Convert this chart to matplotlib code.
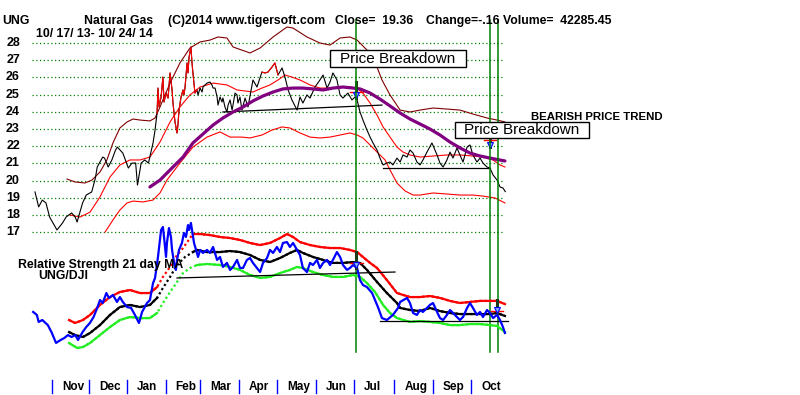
import matplotlib
matplotlib.use('Agg')
import matplotlib.pyplot as plt
import numpy as np
from matplotlib.transforms import blended_transform_factory
from matplotlib.patches import Rectangle

plt.rcParams['font.family'] = ['Liberation Sans', 'DejaVu Sans']

# --- datos (dia de cotizacion desde 17/10/13, valor) ---
close = [(0, 19.34), (2, 18.47), (4, 18.87), (6, 18.70), (8, 17.88), (12, 17.13), (15, 17.53),
         (17, 17.88), (20, 18.12), (22, 17.88), (23, 17.59), (26, 18.70), (28, 19.16), (31, 19.34),
         (33, 20.15), (34, 20.79), (37, 21.37), (38, 21.31), (40, 20.79), (42, 21.20), (44, 21.78),
         (45, 21.95), (48, 21.60), (49, 21.31), (51, 20.73), (53, 21.02), (55, 21.02), (56, 19.74),
         (58, 21.02), (60, 21.20), (62, 21.02), (64.5, 22.19), (65.6, 22.94), (66.7, 23.93),
         (67.2, 25.38), (67.8, 24.28), (68.9, 24.86), (69.9, 26.02), (70.5, 24.57), (71.6, 25.09),
         (72.7, 24.80), (73.8, 26.26), (74.9, 25.27), (75.4, 24.51), (76.5, 23.41), (77.6, 22.77),
         (78.1, 23.23), (78.7, 24.10), (79.8, 24.86), (80.9, 25.27), (81.4, 24.98), (82.0, 25.44),
         (83.1, 26.84), (83.6, 26.26), (84.2, 27.19), (85.2, 27.77), (85.8, 26.84), (86.3, 26.26),
         (87.4, 25.09), (88.5, 25.27), (89.1, 24.98), (90.2, 25.38), (91.3, 25.15), (91.8, 25.44),
         (92.9, 25.56), (94.0, 25.67), (95.6, 25.73), (96.7, 25.56), (97.3, 25.38), (98.4, 25.38),
         (99.5, 24.86), (100.0, 24.39), (101.1, 24.86), (102.2, 24.57), (102.7, 24.80), (103.8, 24.28),
         (104.9, 23.99), (105.5, 24.39), (106.6, 24.69), (107.7, 24.10), (108.2, 24.39), (109.3, 25.09),
         (110.4, 24.98), (110.9, 24.51), (112.0, 24.86), (113.1, 24.10), (114.8, 24.80), (116.4, 24.28),
         (119.1, 25.85), (121.3, 25.44), (124.0, 26.31), (125.7, 26.26), (127.3, 26.31), (129.5, 26.60),
         (131.1, 26.84), (132.8, 26.14), (135.0, 26.55), (136.6, 26.02), (138.3, 25.27), (140.4, 24.69),
         (143.2, 24.10), (144.8, 24.86), (146.4, 24.51), (148.6, 24.98), (150.3, 24.80), (153.0, 25.44),
         (155.7, 25.85), (157.4, 26.14), (159.6, 25.38), (161.2, 25.73), (162.8, 26.26), (165.0, 25.85),
         (166.7, 24.98), (168.3, 24.80), (171.0, 25.09), (173.2, 24.69), (174.9, 24.86), (176.0, 24.69),
         (177.6, 23.99), (179.2, 23.52), (181.4, 22.94), (183.1, 22.53), (184.7, 22.19), (186.9, 21.78),
         (188.5, 21.31), (190.2, 20.91), (192.3, 21.02), (194.0, 21.08), (195.6, 20.91), (197.8, 21.31),
         (199.5, 21.08), (201.1, 21.49), (203.3, 21.37), (204.9, 21.78), (206.6, 21.60), (208.7, 21.08),
         (210.4, 20.91), (212.0, 21.20), (214.2, 21.66), (216.9, 22.19), (219.7, 21.49), (221.3, 21.02),
         (223.0, 20.79), (225.1, 21.20), (226.8, 21.66), (228.4, 21.31), (230.6, 21.90), (232.2, 21.49),
         (233.9, 21.08), (236.1, 21.95), (237.7, 22.07), (239.3, 21.49), (241.5, 21.08), (243.2, 21.31),
         (244.8, 21.02), (247.0, 20.79), (248.6, 20.73), (250.3, 20.33), (252.5, 20.03), (254.1, 19.63),
         (255.7, 19.57), (257, 19.36)]
close_red = [(66.7, 88.5), (124.0, 132.8)]

band_upper = [(17.5, 20.09), (21.9, 19.92), (27.3, 19.86), (31.1, 20.03), (35.5, 20.50), (39.3, 21.20),
              (42.6, 22.19), (46.4, 23.06), (50.3, 23.41), (53.6, 23.58), (57.4, 23.52), (62.8, 23.47),
              (65.6, 23.64), (68.3, 24.28), (73.8, 25.67), (79.2, 26.84), (84.7, 27.71), (90.2, 28.06),
              (95.6, 28.17), (100.0, 28.35), (104.9, 28.29), (108.2, 27.77), (117.5, 27.42), (123.0, 27.71),
              (130.1, 28.35), (137.7, 28.93), (141.0, 28.87), (148.6, 28.35), (155.7, 28.00), (161.2, 27.88),
              (166.7, 28.29), (172.1, 28.35), (176.0, 28.17), (181.4, 27.59), (185.8, 26.90), (189.6, 25.85),
              (194.0, 24.98), (199.5, 24.10), (204.9, 23.99), (210.4, 24.10), (217.5, 24.22), (225.1, 24.16),
              (232.2, 24.10), (239.3, 23.87), (247.0, 23.64), (252.5, 23.52), (256.8, 23.41)]

ma21 = [(19.1, 18.00), (24.6, 17.88), (30.1, 18.17), (35.5, 19.05), (41.0, 20.21), (46.4, 20.91),
        (51.9, 21.20), (57.4, 21.20), (62.8, 21.37), (68.3, 22.24), (73.8, 23.41), (79.2, 24.28),
        (84.7, 24.98), (90.2, 25.44), (97.3, 25.67), (104.9, 25.56), (110.4, 25.27), (119.1, 25.15),
        (124.0, 25.38), (128.4, 25.56), (132.8, 25.85), (136.6, 26.14), (140.4, 26.02), (144.8, 25.85),
        (150.3, 25.56), (155.7, 25.38), (161.2, 25.38), (166.7, 25.44), (172.1, 25.44), (176.0, 25.38),
        (179.2, 25.09), (183.1, 24.51), (186.9, 23.81), (190.2, 23.12), (194.0, 22.53), (197.8, 21.95),
        (201.1, 21.66), (204.9, 21.49), (210.4, 21.37), (217.5, 21.43), (225.1, 21.49), (232.2, 21.49),
        (239.3, 21.43), (244.8, 21.37), (250.3, 21.20), (254.1, 20.91), (256.8, 20.79)]

band_lower = [(38.3, 17.01), (42.6, 17.71), (46.4, 18.29), (50.3, 18.70), (53.6, 18.81), (59.0, 18.76),
              (64.5, 18.87), (68.3, 19.28), (72.1, 20.03), (79.2, 21.02), (86.3, 21.95), (94.0, 22.53),
              (101.1, 22.83), (106.6, 22.53), (113.1, 22.53), (117.5, 22.48), (124.0, 22.65), (129.5, 22.94),
              (135.0, 23.12), (139.3, 23.06), (144.8, 22.77), (150.3, 22.53), (155.7, 22.48), (161.2, 22.53),
              (166.7, 22.65), (172.1, 22.77), (176.0, 22.65), (179.2, 22.48), (183.1, 22.07), (186.9, 21.66),
              (191.3, 21.20), (194.0, 20.62), (197.8, 19.86), (202.2, 19.40), (206.6, 19.16), (210.4, 19.16),
              (217.5, 19.28), (225.1, 19.22), (232.2, 19.16), (239.3, 19.16), (244.8, 19.10), (251.4, 18.99),
              (256.8, 18.70)]

ma50 = [(62.8, 19.63), (68.3, 20.03), (75.4, 20.79), (80.9, 21.37), (86.3, 22.19), (91.8, 22.71),
        (97.3, 23.23), (102.7, 23.64), (108.2, 23.99), (113.7, 24.28), (119.1, 24.63), (124.6, 24.92),
        (130.1, 25.15), (135.5, 25.33), (141.0, 25.38), (146.4, 25.38), (151.9, 25.33), (157.4, 25.27),
        (162.8, 25.38), (168.3, 25.44), (173.8, 25.38), (177.6, 25.33), (183.1, 25.09), (188.5, 24.74),
        (194.0, 24.34), (199.5, 23.93), (204.9, 23.58), (210.4, 23.29), (215.8, 23.00), (221.3, 22.65),
        (226.8, 22.24), (232.2, 21.90), (237.7, 21.60), (243.2, 21.43), (248.6, 21.31), (256.8, 21.14)]

support_price = [[(102.7, 23.99), (189.6, 24.39)], [(190.2, 20.73), (248.6, 20.73)]]

# fuerza relativa UNG/DJI (x10000)
rs = [(-1, 12.62), (1, 12.45), (2, 12.05), (4, 12.16), (7, 11.87), (9, 11.47), (11.5, 10.85), (14, 11.02),
      (16, 11.13), (18, 11.30), (20, 11.19), (22, 11.30), (23.5, 11.02), (26, 11.47), (28, 11.76),
      (30, 11.99), (32, 12.33), (34, 12.85), (35.5, 13.30), (37, 13.13), (39, 13.70), (40.4, 13.42),
      (42.6, 13.59), (44.8, 13.19), (46.4, 13.47), (48, 13.19), (50.3, 12.90), (52.5, 12.85),
      (54.6, 12.45), (56.8, 11.99), (58.5, 12.62), (61.2, 13.13), (62.8, 13.30), (64.5, 14.27),
      (65.6, 14.56), (67.2, 15.76), (68.9, 17.30), (69.9, 17.47), (70.5, 16.90), (71.6, 15.76),
      (72.1, 16.56), (73.2, 17.41), (74.3, 16.90), (74.9, 16.16), (76.0, 15.42), (77.0, 15.02),
      (77.6, 15.59), (78.7, 16.16), (80.3, 16.56), (81.4, 17.13), (82.5, 16.90), (83.6, 17.58),
      (84.2, 17.30), (85.2, 17.70), (85.8, 17.30), (86.9, 16.56), (88.0, 16.16), (89.1, 15.76),
      (90.2, 16.16), (91.8, 15.99), (94.0, 16.16), (95.6, 15.99), (97.3, 16.33), (99.5, 15.59),
      (101.1, 15.76), (102.7, 15.19), (104.9, 15.42), (106.6, 15.02), (108.2, 15.19), (110.4, 15.59),
      (112.0, 15.13), (113.7, 15.13), (115.8, 15.59), (117.5, 15.70), (119.1, 15.42), (121.3, 15.13),
      (123.0, 14.90), (124.6, 15.42), (126.8, 15.70), (128.4, 16.16), (130.1, 15.99), (132.2, 16.33),
      (133.9, 16.04), (135.5, 16.56), (137.7, 16.61), (139.3, 16.33), (141.0, 16.56), (143.2, 16.16),
      (144.8, 15.87), (146.4, 15.13), (148.6, 14.90), (150.3, 15.42), (151.9, 15.30), (154.1, 15.59),
      (155.7, 15.13), (157.4, 15.42), (159.6, 15.59), (161.2, 15.30), (162.8, 15.59), (165.0, 16.04),
      (166.7, 15.76), (168.3, 15.30), (170.5, 15.02), (172.1, 15.13), (173.8, 15.30), (176.0, 15.13),
      (177.6, 14.44), (179.2, 14.16), (181.4, 14.04), (184.2, 13.70), (185.8, 13.30), (187.4, 12.90),
      (189.6, 12.27), (192.3, 12.16), (195.6, 12.45), (198.4, 12.85), (199.5, 13.19), (203.3, 13.42),
      (204.9, 13.13), (206.6, 12.56), (208.7, 12.45), (210.4, 12.73), (212.0, 12.62), (214.2, 12.85),
      (215.8, 13.02), (217.5, 13.13), (219.7, 12.62), (221.3, 12.27), (223.0, 12.16), (225.1, 12.45),
      (226.8, 12.73), (228.4, 12.56), (230.6, 12.33), (232.2, 12.16), (233.9, 12.33), (236.1, 12.85),
      (237.7, 13.13), (239.3, 12.85), (241.5, 12.45), (243.2, 12.62), (244.8, 12.33), (247.0, 12.73),
      (248.6, 12.56), (250.3, 12.27), (252.5, 12.45), (254.1, 12.16), (255.7, 11.76), (256.8, 11.42)]

rs_upper = [(18.6, 12.16), (21.9, 11.99), (26.2, 12.16), (30.1, 12.45), (35.5, 13.02), (41.0, 13.47),
            (46.4, 13.76), (51.9, 13.87), (57.4, 13.70), (62.8, 13.70), (66.7, 14.04), (69.9, 14.62),
            (73.8, 15.19), (77.6, 15.87), (80.9, 16.27), (84.7, 16.84), (86.3, 17.07), (90.2, 17.07),
            (95.6, 17.01), (101.1, 16.90), (106.6, 16.84), (112.0, 16.73), (117.5, 16.56), (123.0, 16.44),
            (128.4, 16.56), (133.9, 16.84), (137.7, 17.07), (141.0, 16.90), (144.8, 16.61), (150.3, 16.44),
            (155.7, 16.33), (161.2, 16.27), (166.7, 16.27), (172.1, 16.16), (176.0, 16.04), (179.2, 15.76),
            (183.1, 15.42), (186.9, 15.13), (192.3, 14.44), (197.8, 13.70), (204.9, 13.47), (210.4, 13.47),
            (215.8, 13.53), (221.3, 13.42), (226.8, 13.25), (232.2, 13.13), (237.7, 13.19), (243.2, 13.25),
            (248.6, 13.25), (252.5, 13.25), (256.8, 13.07)]

rs_ma = [(18.6, 11.47), (21.9, 11.30), (26.2, 11.19), (30.1, 11.42), (35.5, 11.87), (41.0, 12.45),
         (46.4, 12.90), (51.9, 13.02), (57.4, 12.90), (62.8, 13.02), (66.7, 13.42), (69.9, 13.99),
         (73.8, 14.62), (77.6, 15.30), (82.0, 15.76), (86.3, 16.04), (88.5, 16.16), (94.0, 16.04),
         (101.1, 16.04), (106.6, 16.10), (112.0, 16.04), (117.5, 15.87), (123.0, 15.59), (128.4, 15.47),
         (133.9, 15.70), (139.3, 15.99), (143.2, 16.16), (146.4, 15.99), (151.9, 15.76), (157.4, 15.59),
         (162.8, 15.42), (168.3, 15.42), (173.8, 15.47), (177.6, 15.42), (181.4, 15.02), (186.9, 14.33),
         (192.3, 13.70), (197.8, 13.13), (199.5, 12.85), (204.9, 12.73), (210.4, 12.67), (215.8, 12.85),
         (221.3, 12.67), (226.8, 12.56), (232.2, 12.50), (237.7, 12.50), (243.2, 12.50), (248.6, 12.50),
         (252.5, 12.56), (256.8, 12.39)]

rs_lower = [(18.6, 10.85), (23.0, 10.56), (26.2, 10.62), (30.1, 10.85), (35.5, 11.30), (41.0, 11.76),
            (46.4, 12.16), (51.9, 12.33), (57.4, 12.27), (62.8, 12.27), (66.7, 12.56), (69.9, 13.13),
            (73.8, 13.76), (77.6, 14.33), (80.9, 14.84), (84.7, 15.13), (88.5, 15.30), (94.0, 15.36),
            (101.1, 15.30), (106.6, 15.19), (112.0, 15.02), (117.5, 14.73), (123.0, 14.56), (128.4, 14.62),
            (133.9, 14.84), (139.3, 15.02), (143.2, 15.19), (146.4, 15.13), (151.9, 14.90), (157.4, 14.73),
            (162.8, 14.62), (168.3, 14.62), (173.8, 14.73), (177.6, 14.62), (181.4, 14.27), (185.8, 13.76),
            (190.2, 13.02), (194.0, 12.56), (197.8, 12.27), (204.9, 12.05), (210.4, 12.10), (215.8, 12.05),
            (221.3, 11.99), (226.8, 11.87), (232.2, 11.87), (237.7, 11.93), (243.2, 11.93), (248.6, 11.87),
            (252.5, 11.82), (256.8, 11.47)]

support_rs = [[(77.6, 14.56), (196.7, 14.90)], [(188.5, 12.13), (258.5, 12.13)]]

# senales: (dia, tope, base, marca roja)
breakdown_price = [(175.5, 25.73, 24.80, 25.15), (248.6, 22.48, 21.95, 22.36)]
breakdown_rs = [(175.5, 16.04, 15.13, 15.42), (252.5, 13.30, 12.62, 12.67)]
signal_days = [175.5, 248.6, 252.8]

months = ['Nov', 'Dec', 'Jan', 'Feb', 'Mar', 'Apr', 'May', 'Jun', 'Jul', 'Aug', 'Sep', 'Oct']
month_start = [11, 31, 52, 73, 92, 113, 134, 155, 176, 198, 219, 240]
price_levels = list(range(17, 29))

W, H = 800, 395


def fx(px):
    return px / W


def fy(py):
    return 1 - py / H


def xy(pts):
    a = np.array(pts, dtype=float)
    return a[:, 0], a[:, 1]


fig = plt.figure(figsize=(8, 3.95), dpi=100)
fig.patch.set_facecolor('white')
xlim = (-35 / 1.83, (W - 35) / 1.83)

ax_p = fig.add_axes([0, fy(236), 1, 236 / H])
ax_p.set_xlim(*xlim)
ax_p.set_ylim(28 - (236 - 43) / 17.2, 28 + 43 / 17.2)
ax_r = fig.add_axes([0, fy(360), 1, (360 - 215) / H])
ax_r.set_xlim(*xlim)
ax_r.set_ylim(12.56 - 47 * 0.0571, 12.56 + 98 * 0.0571)
for a in (ax_p, ax_r):
    a.axis('off')
    a.patch.set_alpha(0)

# rejilla de precios
ax_p.hlines(price_levels, -1.6, 256.3, colors='#008000', linestyles=(0, (1, 2)), lw=0.9, zorder=1)
for lv in price_levels:
    fig.text(fx(20), fy(43 + (28 - lv) * 17.2), str(lv), ha='right', va='center',
             fontsize=9, fontweight='bold')

# panel de precios
d, v = xy(band_upper)
ax_p.plot(d, v, color='#800000', lw=0.8, zorder=2)
d, v = xy(ma21)
ax_p.plot(d, v, color='#ff0000', lw=0.8, zorder=2)
d, v = xy(band_lower)
ax_p.plot(d, v, color='#ff0000', lw=0.8, zorder=2)
for seg in support_price:
    d, v = xy(seg)
    ax_p.plot(d, v, color='black', lw=0.9, zorder=2)
d, v = xy(close)
ax_p.plot(d, v, color='black', lw=0.8, zorder=3)
for lo, hi in close_red:
    m = (d >= lo) & (d <= hi)
    ax_p.plot(d[m], v[m], color='#ff0000', lw=0.8, zorder=3)
d, v = xy(ma50)
ax_p.plot(d, v, color='#800080', lw=2.3, zorder=4, solid_capstyle='round')

for ax_, marks in ((ax_p, breakdown_price), (ax_r, breakdown_rs)):
    for day, top, bot, tick in marks:
        ax_.plot([day, day], [bot, top], color='#1a3a1a', lw=2.2, zorder=6)
        ax_.plot([day - 3.5, day + 3.5], [tick, tick], color='#ff0000', lw=1, zorder=7)
        ax_.plot(day, bot + (top - bot) * 0.2, marker='v', ms=5, mfc='#7fb0ff', mec='#0000ff',
                 mew=0.8, zorder=7)

# panel de fuerza relativa
d, v = xy(rs)
ax_r.plot(d, v, color='#0000ff', lw=1.6, zorder=5)
for pts, col in ((rs_upper, '#ff0000'), (rs_ma, 'black'), (rs_lower, '#22ee22')):
    d, v = xy(pts)
    ax_r.plot(d, v, color=col, lw=1.6, ls=(0, (1, 1.2)), zorder=3)
    for m in (d <= 66.7, d >= 86.0):
        ax_r.plot(d[m], v[m], color=col, lw=1.6, zorder=3)
for seg in support_rs:
    d, v = xy(seg)
    ax_r.plot(d, v, color='black', lw=0.9, zorder=4)

# lineas verticales de senal
tr = blended_transform_factory(ax_p.transData, fig.transFigure)
for day in signal_days:
    ax_p.plot([day, day], [fy(20), fy(352)], transform=tr, color='#008000', lw=1.1,
              clip_on=False, zorder=8)

# meses
for name, ms in zip(months, month_start):
    ax_p.plot([ms - 1.6, ms - 1.6], [fy(380), fy(393)], transform=tr, color='#0000ff',
              lw=1, clip_on=False)
    ax_p.text(ms - 1.6 + 5.5, fy(387), name, transform=tr, ha='left', va='center',
              fontsize=8.5, fontweight='bold', clip_on=False)

# textos
ttl = dict(fontsize=8.8, fontweight='bold', va='center', ha='left')
fig.text(fx(2), fy(21), 'UNG', **ttl)
fig.text(fx(84), fy(21), 'Natural Gas', **ttl)
fig.text(fx(168), fy(21), '(C)2014 www.tigersoft.com', **ttl)
fig.text(fx(335), fy(21), 'Close=  19.36', **ttl)
fig.text(fx(426), fy(21), 'Change=-.16 Volume=  42285.45', **ttl)
fig.text(fx(36), fy(34), '10/ 17/ 13- 10/ 24/ 14', **ttl)
fig.text(fx(531), fy(117), 'BEARISH PRICE TREND', fontsize=8.2, fontweight='bold',
         va='center', ha='left')
fig.text(fx(18), fy(265), 'Relative Strength 21 day MA', **ttl)
fig.text(fx(38), fy(276), 'UNG/DJI', **ttl)

for x0, y0, x1, y1 in ((330, 50, 466, 67), (455, 122, 589, 138)):
    fig.add_artist(Rectangle((fx(x0), fy(y1)), fx(x1 - x0), (y1 - y0) / H,
                             transform=fig.transFigure, fc='white', ec='black', lw=1, zorder=9))
    fig.text(fx((x0 + x1) / 2), fy((y0 + y1) / 2 + 0.5), 'Price Breakdown', fontsize=11,
             ha='center', va='center', zorder=10)

fig.savefig('out.png', dpi=100, facecolor='white')
